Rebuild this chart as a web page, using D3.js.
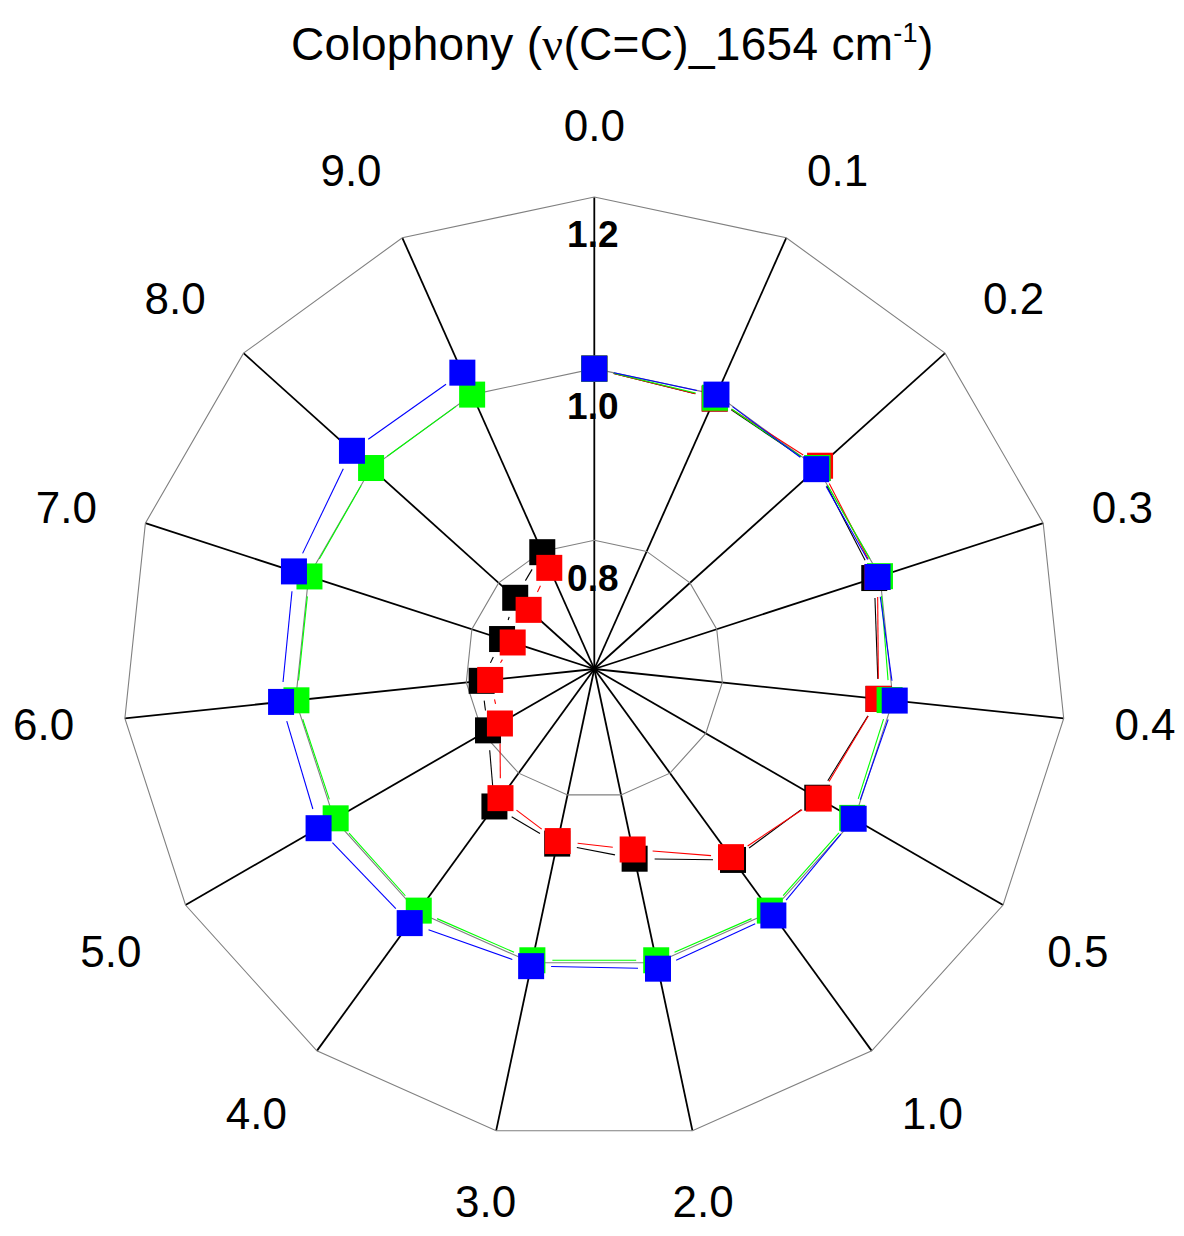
<!DOCTYPE html>
<html>
<head>
<meta charset="utf-8">
<script src="https://cdn.jsdelivr.net/npm/d3@7"></script>
<style>
  html, body { margin: 0; padding: 0; background: #ffffff; }
  svg { display: block; }
  text { font-family: Arial, "Liberation Sans", Helvetica, sans-serif; }
</style>
</head>
<body>
<svg id="chart" width="1184" height="1236"></svg>
<script>
// ---------------- data ----------------
const axisLabels = ["0.0","0.1","0.2","0.3","0.4","0.5","1.0","2.0","3.0","4.0","5.0","6.0","7.0","8.0","9.0"];
const tickValues = [0.8, 1.0, 1.2];
const tickLabels = ["0.8", "1.0", "1.2"];
const seriesNames = ["black", "red", "green", "blue"];
const seriesColors = ["#000000", "#ff0000", "#00ff00", "#0000ff"];
const blackValues = [1.000, 0.995, 1.000, 0.993, 0.983, 0.950, 0.925, 0.876, 0.858, 0.848, 0.793, 0.782, 0.763, 0.774, 0.799];
const redValues   = [1.000, 0.995, 1.004, 0.997, 0.983, 0.952, 0.921, 0.865, 0.855, 0.836, 0.777, 0.772, 0.750, 0.753, 0.779];
const greenValues = [1.000, 0.996, 1.000, 1.000, 0.996, 0.997, 0.998, 0.997, 0.997, 0.998, 0.998, 0.999, 0.999, 1.000, 1.000];
const blueValues  = [1.000, 1.000, 0.998, 0.997, 1.002, 0.999, 1.005, 1.007, 1.004, 1.016, 1.021, 1.017, 1.018, 1.030, 1.028];
const radialDomain = [0.65, 1.2];
const titleParts = ["Colophony (", "\u03BD", "(C=C)_1654 cm", "-1", ")"];

// ---------------- layout ----------------
const cx = 594.3, cy = 669;
const outerR = 472;
const svg = d3.select("#chart");
const g = svg.append("g").attr("transform", `translate(${cx},${cy})`);

const r = d3.scaleLinear().domain(radialDomain).range([0, outerR]);
const n = axisLabels.length;
const angle = d3.scaleLinear().domain([0, n]).range([0, 2 * Math.PI]);

// spokes
g.append("g").selectAll("line")
  .data(axisLabels)
  .join("line")
  .attr("x1", 0).attr("y1", 0)
  .attr("x2", (d, i) => d3.pointRadial(angle(i), outerR)[0])
  .attr("y2", (d, i) => d3.pointRadial(angle(i), outerR)[1])
  .attr("stroke", "#000")
  .attr("stroke-width", 1.8);

// grid rings (polygons)
const ringLine = d3.lineRadial()
  .angle((d, i) => angle(i))
  .radius(d => r(d))
  .curve(d3.curveLinearClosed);
g.append("g").selectAll("path")
  .data(tickValues)
  .join("path")
  .attr("d", t => ringLine(axisLabels.map(() => t)))
  .attr("fill", "none")
  .attr("stroke", "#808080")
  .attr("stroke-width", 1.1);

// tick labels (bold, below each ring on the 0.0 axis)
const tickFont = 37;
g.append("g").selectAll("text")
  .data(tickValues)
  .join("text")
  .attr("x", -1.5)
  .attr("y", (t) => -r(t) + 37 + 0.36 * tickFont)
  .attr("text-anchor", "middle")
  .attr("font-size", tickFont)
  .attr("font-weight", "bold")
  .attr("fill", "#000")
  .text((t, i) => tickLabels[i]);

// series
const allSeries = [blackValues, redValues, greenValues, blueValues];
const gap = 20;
const msize = 26;
allSeries.forEach((vals, si) => {
  const pts = vals.map((v, i) => d3.pointRadial(angle(i), r(v)));
  const segs = [];
  for (let i = 0; i < pts.length - 1; i++) {
    const [x1, y1] = pts[i], [x2, y2] = pts[i + 1];
    const L = Math.hypot(x2 - x1, y2 - y1);
    if (L > 2 * gap + 1) {
      const ux = (x2 - x1) / L, uy = (y2 - y1) / L;
      segs.push([x1 + ux * gap, y1 + uy * gap, x2 - ux * gap, y2 - uy * gap]);
    }
  }
  const sg = g.append("g").attr("class", "series-" + seriesNames[si]);
  sg.selectAll("line")
    .data(segs)
    .join("line")
    .attr("x1", d => d[0]).attr("y1", d => d[1])
    .attr("x2", d => d[2]).attr("y2", d => d[3])
    .attr("stroke", seriesColors[si])
    .attr("stroke-width", 1.1);
});
allSeries.forEach((vals, si) => {
  g.append("g").selectAll("rect")
    .data(vals)
    .join("rect")
    .attr("x", (v, i) => d3.pointRadial(angle(i), r(v))[0] - msize / 2)
    .attr("y", (v, i) => d3.pointRadial(angle(i), r(v))[1] - msize / 2)
    .attr("width", msize)
    .attr("height", msize)
    .attr("fill", seriesColors[si]);
});

// axis labels
const labelFont = 44;
const labelR = 523;
const lg = g.append("g");
axisLabels.forEach((lab, i) => {
  const a = angle(i);
  const dx = Math.sin(a), dy = -Math.cos(a);
  const t = lg.append("text")
    .attr("text-anchor", "middle")
    .attr("font-size", labelFont)
    .attr("fill", "#000")
    .text(lab);
  const w = t.node().getComputedTextLength();
  const [px, py] = d3.pointRadial(a, labelR);
  const ox = Math.abs(dx) > 0.35 ? Math.sign(dx) * w / 2 : 0;
  const oy = Math.abs(dy) > 0.35 ? Math.sign(dy) * 21 : 0;
  t.attr("x", px + ox).attr("y", py + oy + 0.36 * labelFont);
});

// title
const title = svg.append("text")
  .attr("x", 291)
  .attr("y", 60)
  .attr("text-anchor", "start")
  .attr("font-size", 46)
  .attr("letter-spacing", 0.3)
  .attr("fill", "#000");
title.append("tspan").text(titleParts[0]);
title.append("tspan").attr("font-family", "'Liberation Serif', 'Times New Roman', serif").text(titleParts[1]);
title.append("tspan").text(titleParts[2]);
title.append("tspan").attr("font-size", 27).attr("dy", -18).text(titleParts[3]);
title.append("tspan").attr("dy", 18).text(titleParts[4]);
</script>
</body>
</html>
